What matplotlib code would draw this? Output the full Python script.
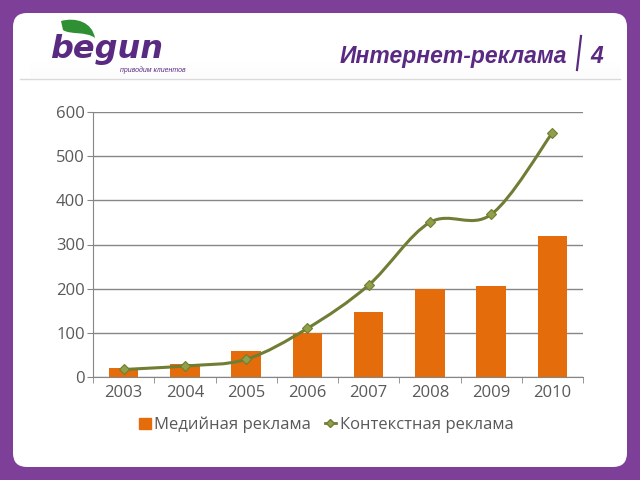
import matplotlib.pyplot as plt
import numpy as np
from matplotlib.patches import FancyBboxPatch, PathPatch, Rectangle
from matplotlib.path import Path
from matplotlib.lines import Line2D

# данные
years = ["2003", "2004", "2005", "2006", "2007", "2008", "2009", "2010"]
media = [20, 30, 60, 100, 148, 200, 207, 320]
context = [17, 25, 40, 110, 208, 350, 368, 553]

purple = "#7e3f98"
dark_purple = "#5a2a82"
bar_color = "#e46c0a"
line_color = "#6f7d35"
marker_fill = "#8fa047"
text_grey = "#595959"

plt.rcParams["font.family"] = ["Open Sans", "DejaVu Sans"]

fig = plt.figure(figsize=(6.4, 4.8), dpi=100)
fig.patch.set_facecolor(purple)

# белая карточка
card = FancyBboxPatch((0.13, 0.13), 6.14, 4.54, boxstyle="round,pad=0,rounding_size=0.14",
                      transform=fig.dpi_scale_trans, facecolor="white", edgecolor="none", zorder=-10)
fig.patches.append(card)
# лёгкая тень шапки
for i in range(14):
    fig.patches.append(Rectangle((0.3, 4.02 + i * 0.012), 5.9, 0.012, transform=fig.dpi_scale_trans,
                                 facecolor="#000000", alpha=0.014 * (14 - i) / 14, edgecolor="none",
                                 zorder=-9))
fig.add_artist(Line2D([0.2, 6.2], [4.01, 4.01], transform=fig.dpi_scale_trans, color="#d9d9d9", lw=1))

# логотип
leaf = Path([(0.61, 4.59),
             (0.76, 4.63), (0.92, 4.58), (0.95, 4.42),
             (0.86, 4.49), (0.70, 4.45), (0.63, 4.50),
             (0.61, 4.59)],
            [Path.MOVETO, Path.CURVE4, Path.CURVE4, Path.CURVE4,
             Path.CURVE4, Path.CURVE4, Path.CURVE4, Path.CLOSEPOLY])
fig.patches.append(PathPatch(leaf, transform=fig.dpi_scale_trans, facecolor="#2f8f33", edgecolor="none"))
fig.text(50 / 640, 1 - 58 / 480, "begun", fontsize=23, fontweight="bold", style="italic",
         color=dark_purple, va="baseline", ha="left", family="Liberation Sans Narrow")
fig.text(120 / 640, 1 - 72 / 480, "приводим клиентов", fontsize=5, style="italic",
         color=dark_purple, va="baseline", ha="left", family="Liberation Sans")

# заголовок
fig.text(567 / 640, 1 - 63 / 480, "Интернет-реклама", fontsize=16.5, fontweight="bold", style="italic",
         color=dark_purple, va="baseline", ha="right", family="Liberation Sans")
fig.add_artist(Line2D([581 / 640, 577 / 640], [1 - 36 / 480, 1 - 70 / 480], transform=fig.transFigure,
                      color=dark_purple, lw=1.6))
fig.text(597 / 640, 1 - 63 / 480, "4", fontsize=16.5, fontweight="bold", style="italic",
         color=dark_purple, va="baseline", ha="center", family="Liberation Sans")

# график
ax = fig.add_axes([93 / 640, 1 - 377 / 480, 490 / 640, 265 / 480])
ax.set_facecolor("none")
x = np.arange(len(years))
ax.bar(x, media, width=0.48, color=bar_color, zorder=2)

# сглаженная линия (кривые Безье по точкам данных)
pts = np.column_stack([x, context]).astype(float)
verts = [tuple(pts[0])]
codes = [Path.MOVETO]
for i in range(len(pts) - 1):
    p0 = pts[i - 1] if i > 0 else pts[i]
    p1, p2 = pts[i], pts[i + 1]
    p3 = pts[i + 2] if i + 2 < len(pts) else pts[i + 1]
    c1 = p1 + (p2 - p0) / 6
    c2 = p2 - (p3 - p1) / 6
    verts += [tuple(c1), tuple(c2), tuple(p2)]
    codes += [Path.CURVE4] * 3
ax.add_patch(PathPatch(Path(verts, codes), facecolor="none", edgecolor=line_color, lw=2.2, zorder=3))
ax.plot(x, context, ls="none", marker="D", ms=5, mfc=marker_fill, mec=line_color, mew=0.8, zorder=4)

ax.set_ylim(0, 600)
ax.set_xlim(-0.5, len(years) - 0.5)
ax.set_yticks(range(0, 601, 100))
ax.yaxis.grid(True, color="#868686", lw=1, zorder=0)
ax.set_axisbelow(True)
ax.set_xticks(x)
ax.set_xticklabels(years)
ax.set_xticks(np.arange(-0.5, len(years)), minor=True)
ax.tick_params(axis="x", which="major", length=0, labelsize=12, labelcolor=text_grey, pad=6)
ax.tick_params(axis="x", which="minor", length=4, color="#868686")
ax.tick_params(axis="y", length=4, color="#868686", labelsize=12, labelcolor=text_grey, pad=2)
for s in ["top", "right"]:
    ax.spines[s].set_visible(False)
ax.spines["left"].set_color("#868686")
ax.spines["bottom"].set_color("#868686")

handles = [Rectangle((0, 0), 1, 1, color=bar_color),
           Line2D([], [], color=line_color, lw=2, marker="D", ms=4, mfc=marker_fill, mec=line_color)]
fig.legend(handles, ["Медийная реклама", "Контекстная реклама"], loc="center",
           bbox_to_anchor=(0.51, 1 - 425 / 480), ncol=2, frameon=False, fontsize=12,
           handlelength=0.7, handletextpad=0.2, columnspacing=0.8, labelcolor=text_grey)

fig.savefig("out.png", dpi=100, facecolor=purple)
